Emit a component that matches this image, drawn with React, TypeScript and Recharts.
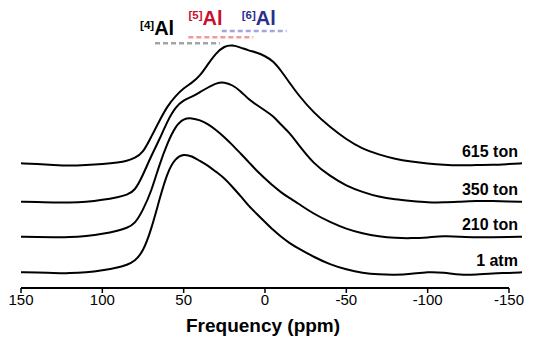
import React from 'react';
import { LineChart, Line, XAxis, YAxis, ReferenceLine, ReferenceDot } from 'recharts';

// chemical shift grid (ppm)
const ppm = [150, 140, 130, 120, 110, 100, 90, 85, 80, 75, 70, 65, 60, 55, 50, 45, 40, 35, 30, 25, 20, 15, 10, 5, 0, -5, -10, -15, -20, -30, -40, -50, -60, -70, -80, -90, -100, -110, -120, -130, -140, -150, -158];

// intensities (relative to each trace's own baseline)
const atm1 = [0.7, 0.5, 0, -0.3, 0.5, 2.5, 5.5, 8, 12, 21, 43, 73, 101, 115, 119, 117, 112, 107.5, 101, 95, 86, 77, 67, 59, 51, 43, 36, 30, 25, 16, 8.5, 3.5, 0, -1.5, -2, -1, 1.2, 0.5, -2, -1.5, -0.3, 0, 0.7];
const ton210 = [0.3, 0, -0.3, -0.3, 1, 3, 6.5, 9, 13, 27, 45, 72, 94, 111, 118.5, 119, 117, 113, 107, 100, 92, 83.5, 75, 66, 58.5, 51, 44.5, 39, 34, 23, 15, 8, 3.5, 0.5, -1, -1.3, -0.5, 1, 0.3, -0.3, -0.3, 0, 0.3];
const ton350 = [0.3, 0, -0.5, -0.7, 0, 2, 5, 7, 11, 27, 46, 62, 81, 95, 102, 105, 110, 114.5, 119, 120, 117, 111, 102.5, 97, 91.5, 86, 77, 69.5, 58.5, 38, 26, 16, 10, 5, 2.5, 1, -0.5, -0.5, 0.3, 1, 1, 0.3, 0.3];
const ton615 = [0.7, 0, -1, -1.7, -1, 0, 1.5, 3, 6, 11, 27, 43, 58, 68, 76, 81, 88, 100, 111, 118, 119, 116.5, 113.5, 111.5, 108, 103, 93, 81.5, 70, 51, 37, 24.5, 15, 9.5, 5, 2.5, 0.5, -1, -1.5, -1, -1, 0, 0.7];

// vertical stacking offsets
const offsets = { atm1: 15, ton210: 51, ton350: 86, ton615: 124 };
const seriesNames = { atm1: '1 atm', ton210: '210 ton', ton350: '350 ton', ton615: '615 ton' };
const xTicks = [150, 100, 50, 0, -50, -100, -150];

// Al coordination ranges (ppm)
const sites = [
  { n: '4', from: 67.6, to: 27.7, color: '#000000', dash: '#a3a3a3' },
  { n: '5', from: 47.1, to: 7.2, color: '#c8102e', dash: '#ee9a9e' },
  { n: '6', from: 26.6, to: -13.3, color: '#2b2e8c', dash: '#a4a6dc' },
];

const rows = ppm.map((p, i) => ({
  ppm: p,
  atm1: atm1[i] + offsets.atm1,
  ton210: ton210[i] + offsets.ton210,
  ton350: ton350[i] + offsets.ton350,
  ton615: ton615[i] + offsets.ton615,
}));

const FONT = '"Liberation Sans", Arial, sans-serif';

const SiteLabel = (props: any) => {
  const { viewBox, n, color } = props;
  const x = viewBox.x;
  const y = viewBox.y;
  return (
    <text x={x} y={y} fill={color} fontFamily={FONT} fontWeight="bold">
      <tspan fontSize={11.5} dy={-6}>[{n}]</tspan>
      <tspan fontSize={20} dy={6}>Al</tspan>
    </text>
  );
};

const EndLabel = (props: any) => {
  const { viewBox, text } = props;
  return (
    <text x={viewBox.x} y={viewBox.y} textAnchor="end" fill="#000" fontFamily={FONT} fontWeight="bold" fontSize={16}>
      {text}
    </text>
  );
};

const TitleLabel = (props: any) => {
  const { viewBox, text } = props;
  return (
    <text x={viewBox.x} y={viewBox.y} textAnchor="middle" fill="#000" fontFamily={FONT} fontWeight="bold" fontSize={19}>
      {text}
    </text>
  );
};

export default function App() {
  const keys = ['ton615', 'ton350', 'ton210', 'atm1'] as const;
  return (
    <div style={{ position: 'absolute', left: 0, top: 0, width: 536, height: 349, background: '#fff' }}>
      <LineChart width={536} height={349} data={rows} margin={{ top: 0, right: 14, bottom: 0, left: 21 }}>
        <XAxis
          type="number"
          dataKey="ppm"
          domain={[-158, 150]}
          reversed
          allowDataOverflow
          ticks={xTicks}
          interval={0}
          axisLine={false}
          tickLine={{ stroke: '#000', strokeWidth: 1.5 }}
          tickSize={5}
          tickMargin={1}
          tick={{ fill: '#000', fontSize: 15, fontFamily: FONT }}
          height={61}
        />
        <YAxis hide type="number" domain={[0, 288]} allowDataOverflow width={0} />
        <ReferenceLine segment={[{ x: 150, y: 0 }, { x: -150, y: 0 }]} stroke="#000" strokeWidth={2} ifOverflow="visible" />
        {sites.map((s, i) => (
          <ReferenceLine
            key={'d' + s.n}
            segment={[{ x: s.from, y: 244.7 + i * 6.1 }, { x: s.to, y: 244.7 + i * 6.1 }]}
            stroke={s.dash}
            strokeWidth={2.5}
            strokeDasharray="5 3"
            ifOverflow="visible"
          />
        ))}
        {keys.map((k) => (
          <Line
            key={k}
            dataKey={k}
            type="basis"
            stroke="#000"
            strokeWidth={2}
            dot={false}
            activeDot={false}
            isAnimationActive={false}
          />
        ))}
        <ReferenceDot x={76.8} y={253} r={0} fill="none" stroke="none" ifOverflow="visible" label={<SiteLabel n={sites[0].n} color={sites[0].color} />} />
        <ReferenceDot x={47.1} y={263} r={0} fill="none" stroke="none" ifOverflow="visible" label={<SiteLabel n={sites[1].n} color={sites[1].color} />} />
        <ReferenceDot x={14.3} y={263} r={0} fill="none" stroke="none" ifOverflow="visible" label={<SiteLabel n={sites[2].n} color={sites[2].color} />} />
        {keys.map((k) => (
          <ReferenceDot
            key={'l' + k}
            x={-155.5}
            y={offsets[k] + 7}
            r={0}
            fill="none"
            stroke="none"
            ifOverflow="visible"
            label={<EndLabel text={seriesNames[k]} />}
          />
        ))}
        <ReferenceDot x={1.2} y={-44} r={0} fill="none" stroke="none" ifOverflow="visible" label={<TitleLabel text="Frequency (ppm)" />} />
      </LineChart>
    </div>
  );
}
